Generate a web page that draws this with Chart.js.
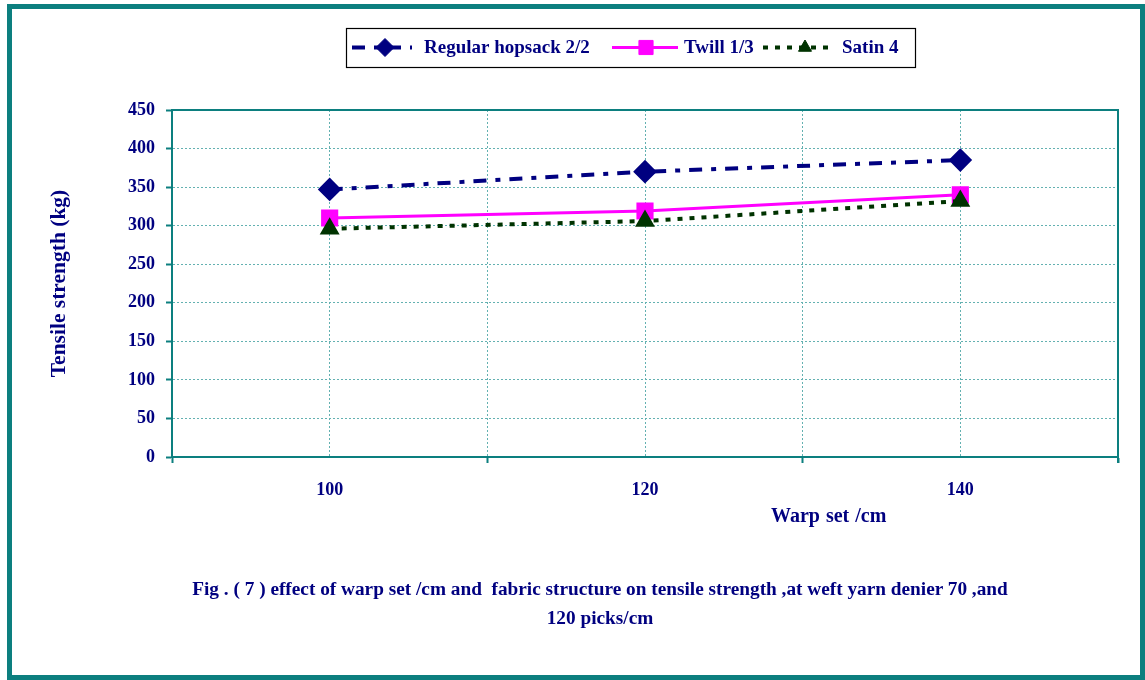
<!DOCTYPE html>
<html>
<head>
<meta charset="utf-8">
<script src="https://cdn.jsdelivr.net/npm/chart.js@4.4.1/dist/chart.umd.min.js"></script>
<style>
  html, body { margin: 0; padding: 0; background: #ffffff; }
  #frame {
    position: absolute; left: 7px; top: 4px; width: 1128px; height: 666px;
    border: 5px solid #0C7F7F; box-sizing: content-box;
  }
  #wrap { position: absolute; left: 0; top: 0; width: 1145px; height: 680px; }
  .txt {
    position: absolute; font-family: "Liberation Serif", "Times New Roman", serif;
    font-weight: bold; color: #000080; white-space: nowrap;
  }
  #xtitle { left: 771px; top: 504px; font-size: 20px; word-spacing: 1px; }
  #caption { left: 0; width: 1200px; top: 574px; font-size: 19.3px; text-align: center; line-height: 29px; }
</style>
</head>
<body>
<div id="frame"></div>
<div id="wrap"><canvas id="c" width="1145" height="680"></canvas></div>
<div id="xtitle" class="txt">Warp set /cm</div>
<div id="caption" class="txt">Fig . ( 7 ) effect of warp set /cm and&nbsp; fabric structure on tensile strength ,at weft yarn denier 70 ,and<br>120 picks/cm</div>
<script>
// Warp set (ends/cm) and measured tensile strength (kg) per fabric structure
const warpSet = [100, 120, 140];
const hopsack = [347, 370, 385];
const twill = [310, 319, 340];
const satin = [296, 306, 332];
const yTicks = [0, 50, 100, 150, 200, 250, 300, 350, 400, 450];
const xLabelled = [100, 120, 140];

const TEAL = '#0C7F7F';
const GRID = '#63B1B1';
const NAVY = '#000080';
const FONT = '"Liberation Serif", "Times New Roman", serif';

const pts = (vals) => warpSet.map((x, i) => ({ x: x, y: vals[i] }));

// Solid frame along the top and right of the plot area
const plotFrame = {
  id: 'plotFrame',
  beforeDatasetsDraw(chart) {
    const a = chart.chartArea, ctx = chart.ctx;
    ctx.save();
    ctx.strokeStyle = TEAL;
    ctx.lineWidth = 2;
    ctx.beginPath();
    ctx.moveTo(a.left, a.top);
    ctx.lineTo(a.right, a.top);
    ctx.lineTo(a.right, a.bottom + 6);
    ctx.stroke();
    ctx.restore();
  }
};

function marker(ctx, ds, x, y) {
  const opts = { pointStyle: ds.pointStyle, radius: ds.pointRadius, rotation: 0, borderWidth: 1 };
  ctx.fillStyle = ds.pointBackgroundColor;
  ctx.strokeStyle = ds.pointBorderColor;
  ctx.lineWidth = 1;
  Chart.helpers.drawPoint(ctx, opts, x, y);
}

// Boxed legend with line samples above the plot
const legendBox = { left: 346, top: 28, right: 915, height: 39 };
const legendSlots = [
  { line: [352, 412], mark: 385, text: 424 },
  { line: [612, 678], mark: 646, text: 684 },
  { line: [763, 834], mark: 805, text: 842 }
];
const boxLegend = {
  id: 'boxLegend',
  afterDraw(chart) {
    const ctx = chart.ctx, b = legendBox;
    ctx.save();
    ctx.fillStyle = '#ffffff';
    ctx.fillRect(b.left, b.top, b.right - b.left, b.height);
    ctx.strokeStyle = '#000000';
    ctx.lineWidth = 1.2;
    ctx.strokeRect(b.left + 0.5, b.top + 0.5, b.right - b.left, b.height);
    const cy = b.top + b.height / 2;
    ctx.font = 'bold 19px ' + FONT;
    chart.data.datasets.forEach((ds, i) => {
      const s = legendSlots[i];
      ctx.save();
      ctx.strokeStyle = ds.borderColor;
      ctx.lineWidth = ds.borderWidth;
      ctx.setLineDash(ds.borderDash || []);
      ctx.beginPath();
      ctx.moveTo(s.line[0], cy);
      ctx.lineTo(s.line[1], cy);
      ctx.stroke();
      ctx.setLineDash([]);
      marker(ctx, ds, s.mark, cy);
      ctx.restore();
      ctx.fillStyle = NAVY;
      ctx.textBaseline = 'middle';
      ctx.textAlign = 'left';
      ctx.fillText(ds.label, s.text, cy + 1);
    });
    ctx.restore();
  }
};

new Chart(document.getElementById('c'), {
  type: 'line',
  data: {
    datasets: [
      {
        label: 'Regular hopsack 2/2', data: pts(hopsack), order: 2,
        borderColor: NAVY, borderWidth: 4, borderDash: [13, 9, 5, 9],
        pointStyle: 'rectRot', pointRadius: 9, pointHoverRadius: 9,
        pointBackgroundColor: NAVY, pointBorderColor: NAVY
      },
      {
        label: 'Twill 1/3', data: pts(twill), order: 1,
        borderColor: '#FF00FF', borderWidth: 3,
        pointStyle: 'rect', pointRadius: 10, pointHoverRadius: 10,
        pointBackgroundColor: '#FF00FF', pointBorderColor: '#FF00FF'
      },
      {
        label: 'Satin 4', data: pts(satin), order: 0,
        borderColor: '#003300', borderWidth: 4, borderDash: [5, 7],
        pointStyle: 'triangle', pointRadius: 7.5, pointHoverRadius: 7.5,
        pointBackgroundColor: '#003300', pointBorderColor: '#003300'
      }
    ]
  },
  options: {
    responsive: false,
    animation: false,
    layout: { padding: { left: 44, top: 110, right: 27, bottom: 163 } },
    plugins: { legend: { display: false }, tooltip: { enabled: false } },
    scales: {
      x: {
        type: 'linear', min: 90, max: 150,
        afterFit: (s) => { s.height = 60; },
        afterBuildTicks: (s) => { s.ticks = [90, 100, 110, 120, 130, 140, 150].map(v => ({ value: v })); },
        ticks: {
          color: NAVY, padding: 17, maxRotation: 0, autoSkip: false,
          font: { family: FONT, size: 18, weight: 'bold' },
          callback: (v) => xLabelled.includes(v) ? String(v) : ''
        },
        grid: {
          color: GRID, lineWidth: 1, tickLength: 6, tickWidth: 2,
          tickColor: (c) => (c.tick && xLabelled.includes(c.tick.value)) ? 'rgba(0,0,0,0)' : TEAL
        },
        border: { color: TEAL, width: 2, dash: [2, 2] }
      },
      y: {
        min: 0, max: 450,
        afterFit: (s) => { s.width = 128; },
        afterBuildTicks: (s) => { s.ticks = yTicks.map(v => ({ value: v })); },
        ticks: {
          color: NAVY, padding: 11,
          font: { family: FONT, size: 18, weight: 'bold' }
        },
        grid: { color: GRID, lineWidth: 1, tickLength: 6, tickWidth: 2, tickColor: TEAL },
        border: { color: TEAL, width: 2, dash: [2, 2] },
        title: {
          display: true, text: 'Tensile strength (kg)', color: NAVY,
          font: { family: FONT, size: 21.5, weight: 'bold' },
          padding: { top: 3, bottom: 0 }
        }
      }
    }
  },
  plugins: [plotFrame, boxLegend]
});
</script>
</body>
</html>
